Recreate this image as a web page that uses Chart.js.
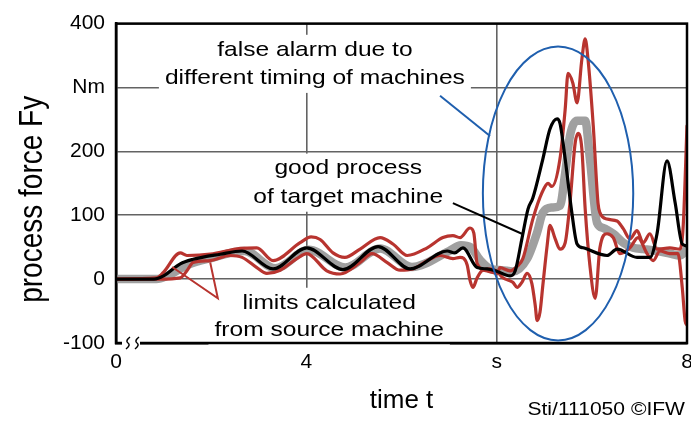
<!DOCTYPE html>
<html>
<head>
<meta charset="utf-8">
<script src="https://cdn.jsdelivr.net/npm/chart.js@4.4.1/dist/chart.umd.min.js"></script>
<style>
  html, body { margin: 0; padding: 0; background: #fff; }
  #wrap { width: 691px; height: 428px; }
</style>
</head>
<body>
<div id="wrap"><canvas id="forceChart" width="691" height="428"></canvas></div>
<script>
'use strict';

// --- DATA ---
const xTickValues = [0, 4, 8, 12];
const xTickLabels = ['0', '4', 's', '8'];
const yTickLabels = ['-100', '0', '100', '200', 'Nm', '400'];

// good process of target machine (black)
const goodT = [0, 0.8, 1.0, 1.35, 1.62, 2.19, 2.65, 3.30, 4.01, 4.77,
               5.51, 6.18, 6.96, 7.12, 7.29, 7.59, 7.80, 8.01, 8.28, 8.39,
               8.53, 8.66, 8.76, 8.97, 9.12, 9.27, 9.33, 9.44, 9.58, 9.69,
               9.82, 10.32, 10.53, 10.95, 11.22, 11.37, 11.58, 11.75, 11.90, 12.0];
const goodF = [0, 0, 5, 24, 31, 39, 44, 16, 49, 15,
               51, 16, 44, 41, 49, 18, 16, 12, 5, 13,
               63, 110, 127, 188, 235, 251, 244, 188, 104, 55,
               49, 37, 47, 34, 34, 71, 185, 120, 55, 52];

// reference from source machine (grey)
const refT = [0, 0.85, 1.1, 1.5, 2.0, 2.7, 3.35, 4.05, 4.82, 5.55,
              6.22, 7.0, 7.25, 7.45, 7.65, 7.9, 8.1, 8.34, 8.64, 8.85,
              8.97, 9.16, 9.33, 9.44, 9.54, 9.69, 9.86, 9.96, 10.11, 10.24,
              10.45, 10.66, 10.87, 11.08, 11.37, 11.64, 11.85, 12.0];
const refF = [0, 0, 6, 22, 33, 44, 17, 46, 18, 48,
              19, 44, 53, 50, 30, 15, 14, 12, 32, 73,
              104, 112, 115, 166, 224, 248, 248, 188, 88, 80,
              71, 57, 49, 47, 44, 40, 37, 47];

// upper limit calculated from source machine (red)
const upperT = [0, 0.85, 0.99, 1.35, 1.49, 1.98, 2.61, 2.96, 3.30, 3.87,
                4.1, 4.29, 4.56, 4.81, 5.13, 5.55, 5.82, 6.12, 6.54, 6.87,
                7.08, 7.23, 7.44, 7.52, 7.59, 7.80, 8.01, 8.07, 8.28, 8.43,
                8.55, 8.76, 8.95, 9.08, 9.16, 9.33, 9.44, 9.50, 9.60, 9.69,
                9.79, 9.86, 9.92, 10.03, 10.13, 10.17, 10.32, 10.53, 10.66, 10.80,
                10.95, 11.08, 11.22, 11.37, 11.64, 11.85, 11.92, 12.0];
const upperF = [0, 2, 10, 41, 37, 39, 48, 49, 29, 57,
                66, 62, 41, 34, 47, 65, 55, 37, 49, 65,
                68, 65, 80, 72, 24, 13, 9, 18, 13, 20,
                32, 94, 135, 150, 145, 188, 266, 322, 307, 276,
                344, 376, 344, 240, 119, 104, 94, 91, 79, 63,
                76, 57, 71, 47, 49, 47, 83, 240];

// lower limit calculated from source machine (red)
const lowerT = [0, 0.92, 1.35, 1.49, 1.62, 1.98, 2.40, 2.65, 2.96, 3.17,
                3.45, 3.80, 4.01, 4.43, 4.71, 5.13, 5.38, 5.70, 5.97, 6.24,
                6.54, 6.81, 7.08, 7.23, 7.38, 7.44, 7.50, 7.59, 7.69, 7.86,
                8.01, 8.13, 8.34, 8.43, 8.53, 8.64, 8.74, 8.81, 8.85, 8.91,
                8.97, 9.06, 9.12, 9.23, 9.33, 9.44, 9.54, 9.65, 9.71, 9.79,
                9.86, 9.96, 10.07, 10.17, 10.32, 10.45, 10.59, 10.80, 10.97, 11.16,
                11.29, 11.43, 11.64, 11.81, 11.90, 11.96, 12.0];
const lowerF = [0, 0, 2, 13, 26, 29, 37, 34, 18, 9,
                14, 32, 40, 13, 8, 26, 40, 26, 14, 16,
                29, 37, 32, 34, 22, -2, -13, 2, 13, 16,
                12, 2, -5, -13, -5, 9, -7, -41, -65, -52,
                -10, 52, 84, 63, 47, 57, 119, 213, 228, 204,
                110, 21, -30, 49, 71, 65, 40, 49, 65, 40,
                29, 44, 40, 40, -13, -65, -72];

// annotations, placed in data units
const notes = [
    { lines: ['false alarm due to', 'different timing of machines'], x: 4.18, y: [359, 315] },
    { lines: ['good process', 'of target machine'], x: 4.88, y: [173, 129] },
    { lines: ['limits calculated', 'from source machine'], x: 4.48, y: [-37, -80] }
];
const alarmEllipse = { x: 9.29, y: 134, rx: 1.58, ry: 230 };
const blueLeader = [[6.81, 287], [7.86, 224]];
const blackLeader = [[7.08, 119], [8.53, 71]];
const redLeader = [[1.18, 19], [2.14, -30], [1.98, 26]];

const FONT = '"Liberation Sans", Arial, Helvetica, sans-serif';
const RED = '#b8342f';
const BLUE = '#1f5fae';
const STRETCH = 1.17;

const toPoints = (t, f) => t.map((v, i) => ({ x: v, y: f[i] }));

// --- overlay: text boxes, frame, axis break, ellipse, leaders, titles ---
const overlayPlugin = {
    id: 'overlay',
    afterDatasetsDraw(chart) {
        const { ctx, chartArea: a, scales: { x, y } } = chart;
        const px = v => x.getPixelForValue(v);
        const py = v => y.getPixelForValue(v);
        ctx.save();
        ctx.font = `21px ${FONT}`;

        // white boxes behind the labels
        notes.forEach(n => {
            const w = Math.max(...n.lines.map(l => ctx.measureText(l).width)) * STRETCH;
            const cx = px(n.x);
            const top = py(n.y[0]) - 15, bottom = py(n.y[n.y.length - 1]) + 15;
            ctx.fillStyle = '#fff';
            ctx.fillRect(cx - w / 2 - 6, top, w + 12, bottom - top);
        });

        // frame
        ctx.strokeStyle = '#000';
        ctx.lineWidth = 2.5;
        ctx.strokeRect(a.left, a.top, a.right - a.left, a.bottom - a.top);

        // axis break on the time axis
        ctx.fillStyle = '#fff';
        ctx.fillRect(a.left + 6, a.bottom - 4, 18, 8);
        ctx.lineWidth = 1.5;
        [a.left + 12, a.left + 21].forEach(bx => {
            ctx.beginPath();
            ctx.moveTo(bx + 2, a.bottom - 6);
            ctx.quadraticCurveTo(bx - 3, a.bottom - 2, bx, a.bottom);
            ctx.quadraticCurveTo(bx + 3, a.bottom + 2, bx - 2, a.bottom + 6);
            ctx.stroke();
        });

        // ellipse marking the false alarm
        ctx.strokeStyle = BLUE;
        ctx.lineWidth = 2;
        ctx.beginPath();
        const ecx = px(alarmEllipse.x), ecy = py(alarmEllipse.y);
        ctx.ellipse(ecx, ecy, px(alarmEllipse.x + alarmEllipse.rx) - ecx,
                    ecy - py(alarmEllipse.y + alarmEllipse.ry), 0, 0, Math.PI * 2);
        ctx.stroke();

        const polyline = (pts, color) => {
            ctx.strokeStyle = color;
            ctx.beginPath();
            pts.forEach(([vx, vy], i) => i ? ctx.lineTo(px(vx), py(vy)) : ctx.moveTo(px(vx), py(vy)));
            ctx.stroke();
        };
        polyline(blueLeader, BLUE);
        polyline(blackLeader, '#000');
        polyline(redLeader, RED);

        // label text
        ctx.fillStyle = '#000';
        ctx.textAlign = 'center';
        ctx.textBaseline = 'middle';
        notes.forEach(n => {
            n.lines.forEach((l, i) => {
                ctx.save();
                ctx.translate(px(n.x), py(n.y[i]));
                ctx.scale(STRETCH, 1);
                ctx.fillText(l, 0, 0);
                ctx.restore();
            });
        });

        // y axis title
        ctx.save();
        ctx.font = `28px ${FONT}`;
        ctx.translate(33, (a.top + a.bottom) / 2 + 16);
        ctx.rotate(-Math.PI / 2);
        ctx.scale(1, STRETCH);
        ctx.fillText('process force Fy', 0, 0);
        ctx.restore();

        // source note
        ctx.font = `18px ${FONT}`;
        ctx.textAlign = 'right';
        ctx.save();
        ctx.translate(chart.width - 6, chart.height - 18);
        ctx.scale(STRETCH, 1);
        ctx.fillText('Sti/111050 \u00A9IFW', 0, 0);
        ctx.restore();
        ctx.restore();
    }
};

// --- CHART ---
const ctx = document.getElementById('forceChart').getContext('2d');
new Chart(ctx, {
    type: 'line',
    data: {
        // first dataset is drawn on top
        datasets: [
            { data: toPoints(goodT, goodF), borderColor: '#000', borderWidth: 3.2 },
            { data: toPoints(upperT, upperF), borderColor: RED, borderWidth: 3.2 },
            { data: toPoints(lowerT, lowerF), borderColor: RED, borderWidth: 3.2 },
            { data: toPoints(refT, refF), borderColor: '#a0a0a0', borderWidth: 8.5 }
        ]
    },
    options: {
        responsive: false,
        animation: false,
        devicePixelRatio: 1,
        layout: { padding: { top: 23, right: 4, left: 0, bottom: 0 } },
        elements: {
            point: { radius: 0 },
            line: { cubicInterpolationMode: 'monotone', borderCapStyle: 'round', borderJoinStyle: 'round' }
        },
        plugins: { legend: { display: false }, tooltip: { enabled: false } },
        scales: {
            x: {
                type: 'linear', min: 0, max: 12,
                afterBuildTicks: s => { s.ticks = xTickValues.map(v => ({ value: v })); },
                afterFit: s => { s.height = 85; s.paddingRight = 4; },
                ticks: {
                    callback: (v, i) => xTickLabels[i],
                    color: '#000', font: { family: FONT, size: 21 }, padding: 7,
                    maxRotation: 0, autoSkip: false
                },
                grid: { color: '#636363', lineWidth: 1.6, drawTicks: false },
                border: { color: '#000', width: 2.5 },
                title: {
                    display: true, text: 'time t', color: '#000',
                    font: { family: FONT, size: 26 }, padding: { top: 0, bottom: 12 }
                }
            },
            y: {
                min: -100, max: 400,
                afterFit: s => { s.width = 116; },
                ticks: {
                    stepSize: 100,
                    callback: (v, i) => yTickLabels[i],
                    color: '#000', font: { family: FONT, size: 21 }, padding: 11
                },
                grid: { color: '#636363', lineWidth: 1.6, drawTicks: false },
                border: { color: '#000', width: 2.5 }
            }
        }
    },
    plugins: [overlayPlugin]
});
</script>
</body>
</html>
